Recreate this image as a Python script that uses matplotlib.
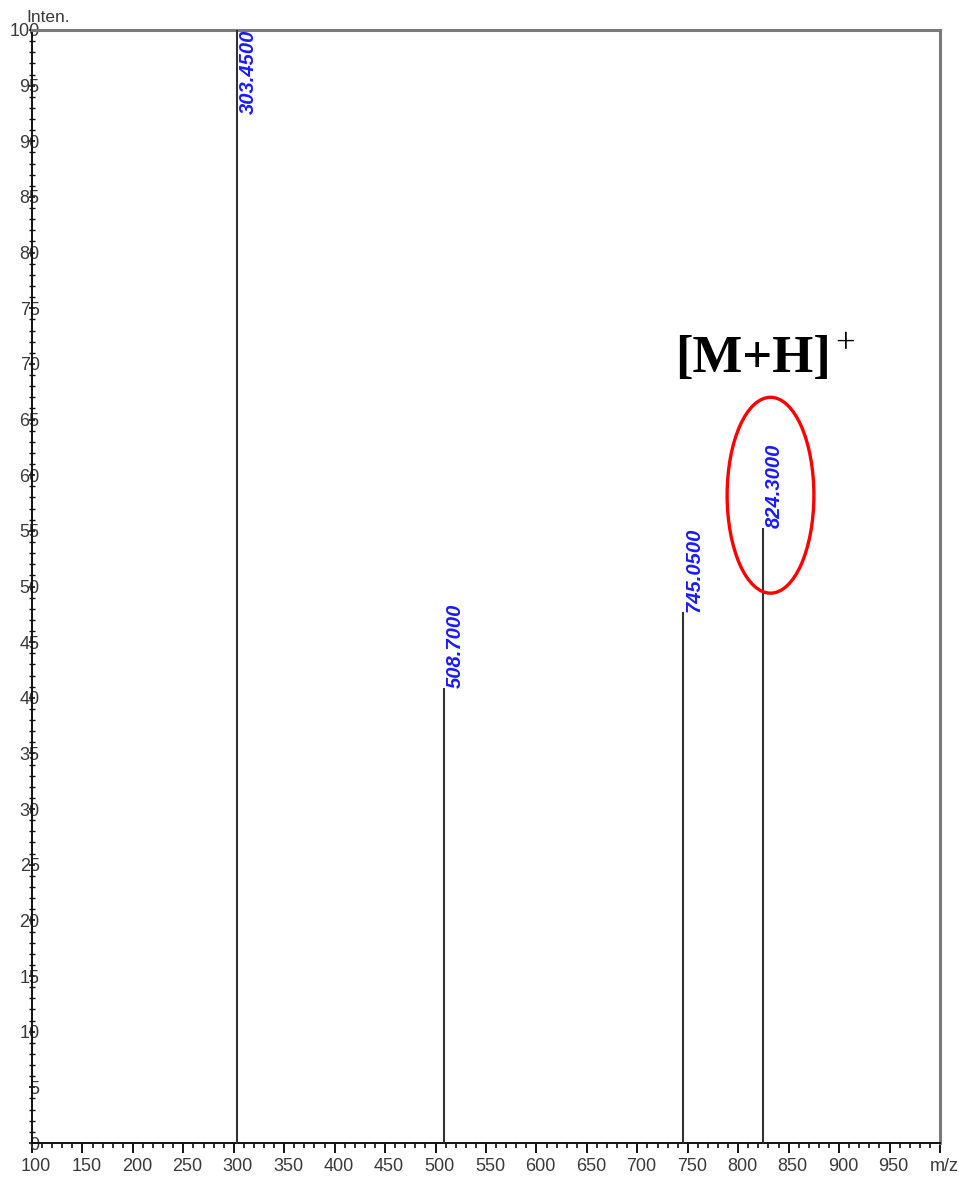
import matplotlib
matplotlib.use("Agg")
import matplotlib.pyplot as plt
from matplotlib.patches import Ellipse
from matplotlib.ticker import MultipleLocator, FixedLocator
import matplotlib.transforms as mtransforms

# Data
mz = [303.45, 508.70, 745.05, 824.30]
intensity = [100.0, 40.9, 47.7, 55.3]
peak_labels = ["303.4500", "508.7000", "745.0500", "824.3000"]
x_ticks = [100, 150, 200, 250, 300, 350, 400, 450, 500, 550, 600, 650,
           700, 750, 800, 850, 900, 950, 1000]
x_ticklabels = ["100", "150", "200", "250", "300", "350", "400", "450", "500",
                "550", "600", "650", "700", "750", "800", "850", "900", "950", "m/z"]
y_ticks = list(range(0, 101, 5))

plt.rcParams['font.family'] = ['Liberation Sans', 'DejaVu Sans']

fig = plt.figure(figsize=(9.59, 11.77), dpi=100)
ax = fig.add_axes([32/959, 34/1177, (940-32)/959, (1143-30)/1177])
ax.set_xlim(100, 1000)
ax.set_ylim(0, 100)

# Peaks
ax.vlines(mz, 0, intensity, color='#333333', lw=1.5, zorder=3)

for x, h, lab in zip(mz, intensity, peak_labels):
    if h >= 99:
        ax.text(x + 1.5, 100, lab, rotation=90, ha='left', va='top',
                color='#1a1aff', fontsize=14.5, fontstyle='italic',
                fontweight='bold', clip_on=False)
    else:
        ax.text(x + 1.5, h, lab, rotation=90, ha='left', va='bottom',
                color='#1a1aff', fontsize=14.5, fontstyle='italic',
                fontweight='bold')

# Annotation
ell = Ellipse((832, 58.2), 86, 17.6, fill=False, edgecolor='#ff0000',
              lw=2.4, clip_on=False, zorder=4)
ax.add_patch(ell)
ax.text(737, 69.3, "[M+H]", family='Liberation Serif', fontweight='bold',
        fontsize=38, ha='left', va='baseline', color='black')
ax.text(896, 71.0, "+", family='Liberation Serif', fontsize=25,
        ha='left', va='baseline', color='black')

# Spines
for s in ['left', 'bottom']:
    ax.spines[s].set_color('#111111')
    ax.spines[s].set_linewidth(1.4)
for s in ['top', 'right']:
    ax.spines[s].set_color('#7a7a7a')
    ax.spines[s].set_linewidth(2.2)

# X ticks
ax.xaxis.set_major_locator(FixedLocator(x_ticks))
ax.set_xticklabels(x_ticklabels)
ax.xaxis.set_minor_locator(MultipleLocator(10))
ax.tick_params(axis='x', which='major', direction='out', length=7, width=1.4,
               pad=3.5, labelsize=13, labelcolor='#3a3a3a', color='#111111')
ax.tick_params(axis='x', which='minor', direction='out', length=3.5, width=1.2,
               color='#111111')
offset = mtransforms.ScaledTranslation(4/100, 0, fig.dpi_scale_trans)
for lbl in ax.get_xticklabels():
    lbl.set_transform(lbl.get_transform() + offset)

# Y ticks
ax.yaxis.set_major_locator(FixedLocator(y_ticks))
ax.set_yticklabels([str(v) for v in y_ticks])
ax.yaxis.set_minor_locator(MultipleLocator(1))
ax.tick_params(axis='y', which='major', direction='inout', length=4, width=1.2,
               pad=-7.5, labelsize=13, labelcolor='#3a3a3a', color='#111111')
ax.tick_params(axis='y', which='minor', direction='inout', length=4, width=1.0,
               color='#111111')

fig.text(26/959, 1 - 18/1177, "Inten.", fontsize=12.5, color='#3a3a3a',
         ha='left', va='center')

fig.savefig("out.png", dpi=100)
